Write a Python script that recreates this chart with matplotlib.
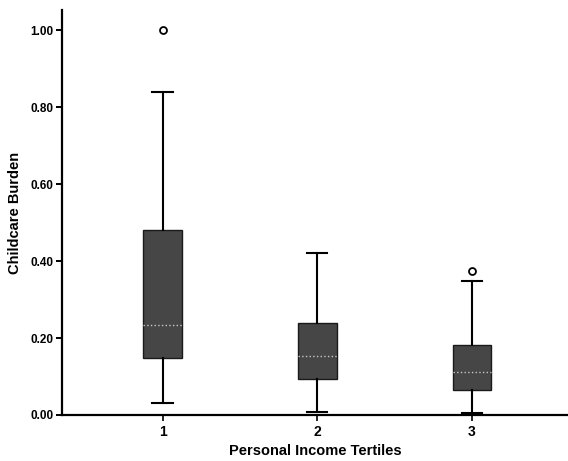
import numpy as np
import matplotlib
matplotlib.use("Agg")
import matplotlib.pyplot as plt

plt.rcParams['font.family'] = ['Liberation Sans', 'DejaVu Sans']

# box summaries
groups = ['1', '2', '3']
q1 = [0.148, 0.094, 0.065]
med = [0.234, 0.153, 0.112]
q3 = [0.480, 0.239, 0.182]
wlo = [0.031, 0.008, 0.005]
whi = [0.839, 0.420, 0.348]
outliers = [[1.00], [], [0.374]]

stats = []
for i in range(len(groups)):
    stats.append({'label': groups[i], 'q1': q1[i], 'med': med[i], 'q3': q3[i],
                  'whislo': wlo[i], 'whishi': whi[i], 'fliers': outliers[i]})

fig = plt.figure(figsize=(5.68, 4.61), dpi=100)
ax = fig.add_axes([0.109, 0.0998, 0.891, 0.878])

ax.bxp(stats, positions=[1, 2, 3], widths=0.25, patch_artist=True,
       boxprops=dict(facecolor='#464646', edgecolor='#1a1a1a', linewidth=1.0),
       medianprops=dict(color='#c8c8c8', linewidth=1.0, linestyle=':'),
       whiskerprops=dict(color='black', linewidth=1.5),
       capprops=dict(color='black', linewidth=1.5),
       capwidths=0.13,
       flierprops=dict(marker='o', markersize=5, markerfacecolor='white',
                       markeredgecolor='black', markeredgewidth=1.3))

ax.set_xlim(0.35, 3.62)
ax.set_ylim(0, 1.052)
ax.set_yticks([0.0, 0.2, 0.4, 0.6, 0.8, 1.0])
ax.set_yticklabels(['%.2f' % v for v in [0.0, 0.2, 0.4, 0.6, 0.8, 1.0]],
                   fontweight='bold', fontsize=8.5)
ax.set_xticklabels(groups, fontweight='bold', fontsize=10)
ax.spines['top'].set_visible(False)
ax.spines['right'].set_visible(False)
ax.spines['left'].set_linewidth(1.6)
ax.spines['bottom'].set_linewidth(1.6)
ax.tick_params(axis='y', length=4, width=1.4, pad=2)
ax.tick_params(axis='x', length=4, width=1.2, pad=3)

ax.set_xlabel('Personal Income Tertiles', fontweight='bold', fontsize=10.5, labelpad=4)
ax.set_ylabel('Childcare Burden', fontweight='bold', fontsize=10.5, labelpad=6)

fig.savefig('out.png', dpi=100)
